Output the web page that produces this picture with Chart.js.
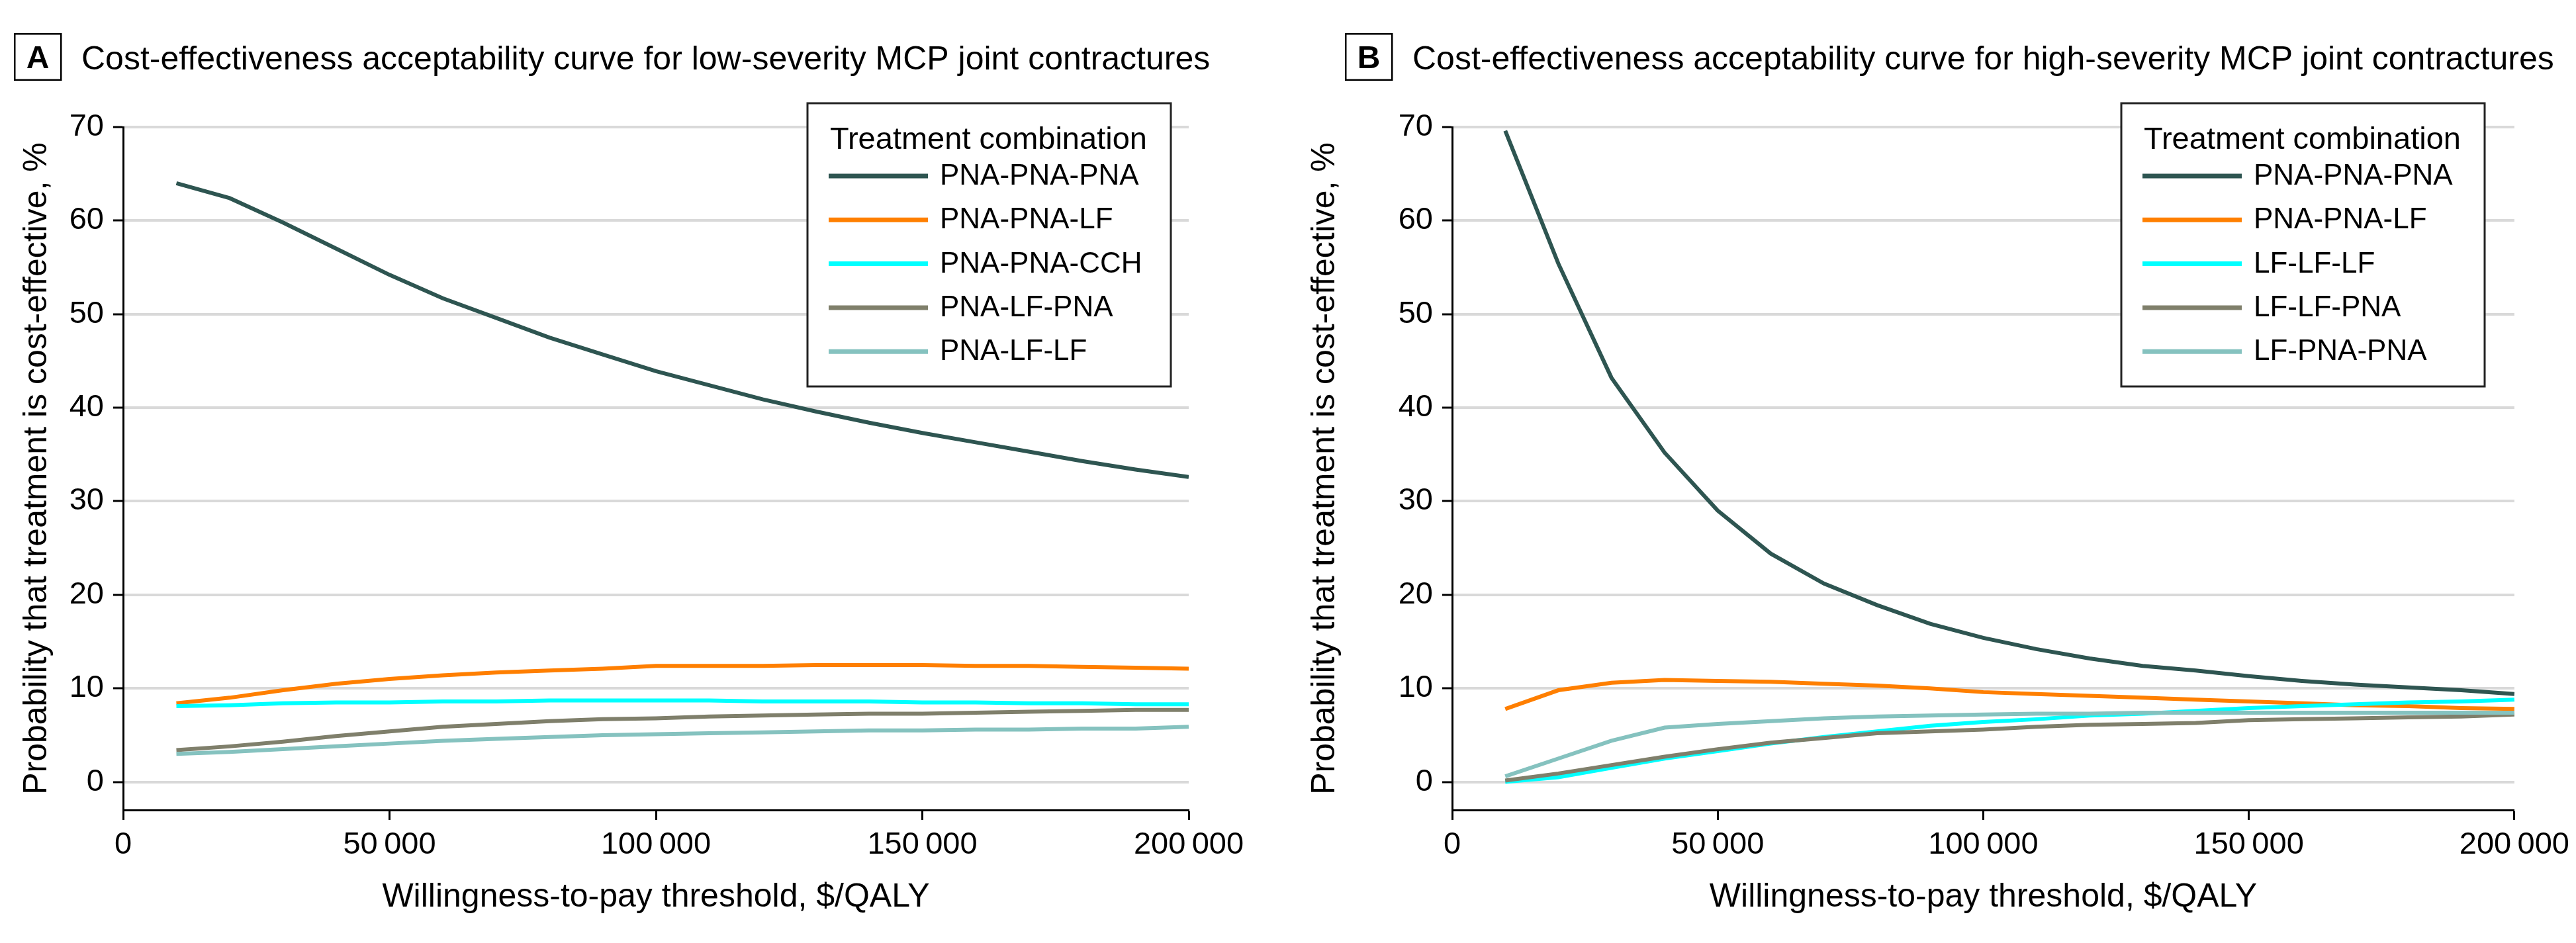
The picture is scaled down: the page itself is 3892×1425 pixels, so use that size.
<!DOCTYPE html>
<html>
<head>
<meta charset="utf-8">
<script src="https://cdn.jsdelivr.net/npm/chart.js@4.4.1/dist/chart.umd.min.js"></script>
<style>
html,body{margin:0;padding:0;background:#fff;width:3892px;height:1425px;overflow:hidden;}
.wrap{position:absolute;top:0;width:1946px;height:1425px;}
canvas{display:block;}
</style>
</head>
<body>
<div class="wrap" style="left:0"><canvas id="cA" width="1946" height="1425"></canvas></div>
<div class="wrap" style="left:1946px"><canvas id="cB" width="1946" height="1425"></canvas></div>
<script>
// ---------- data ----------
const wtp = [10000,20000,30000,40000,50000,60000,70000,80000,90000,100000,110000,120000,130000,140000,150000,160000,170000,180000,190000,200000];
const xTickValues = [0,50000,100000,150000,200000];
const xTickLabels = ['0','50\u2009000','100\u2009000','150\u2009000','200\u2009000'];
const yTickValues = [0,10,20,30,40,50,60,70];

const lowNames = ['PNA-PNA-PNA','PNA-PNA-LF','PNA-PNA-CCH','PNA-LF-PNA','PNA-LF-LF'];
const lowPnaPnaPna = [64.0,62.4,59.8,57.0,54.2,51.7,49.6,47.5,45.7,43.9,42.4,40.9,39.6,38.4,37.3,36.3,35.3,34.3,33.4,32.6];
const lowPnaPnaLf  = [8.4,9.0,9.8,10.5,11.0,11.4,11.7,11.9,12.1,12.4,12.4,12.4,12.5,12.5,12.5,12.4,12.4,12.3,12.2,12.1];
const lowPnaPnaCch = [8.1,8.2,8.4,8.5,8.5,8.6,8.6,8.7,8.7,8.7,8.7,8.6,8.6,8.6,8.5,8.5,8.4,8.4,8.3,8.3];
const lowPnaLfPna  = [3.4,3.8,4.3,4.9,5.4,5.9,6.2,6.5,6.7,6.8,7.0,7.1,7.2,7.3,7.3,7.4,7.5,7.6,7.7,7.7];
const lowPnaLfLf   = [3.0,3.2,3.5,3.8,4.1,4.4,4.6,4.8,5.0,5.1,5.2,5.3,5.4,5.5,5.5,5.6,5.6,5.7,5.7,5.9];

const highNames = ['PNA-PNA-PNA','PNA-PNA-LF','LF-LF-LF','LF-LF-PNA','LF-PNA-PNA'];
const highPnaPnaPna = [69.6,55.4,43.2,35.2,29.0,24.4,21.2,18.9,16.9,15.4,14.2,13.2,12.4,11.9,11.3,10.8,10.4,10.1,9.8,9.4];
const highPnaPnaLf  = [7.8,9.8,10.6,10.9,10.8,10.7,10.5,10.3,10.0,9.6,9.4,9.2,9.0,8.8,8.6,8.4,8.2,8.1,7.9,7.8];
const highLfLfLf    = [0.0,0.5,1.5,2.5,3.3,4.1,4.8,5.4,6.0,6.4,6.7,7.1,7.3,7.6,7.9,8.1,8.3,8.5,8.6,8.8];
const highLfLfPna   = [0.15,0.9,1.8,2.7,3.5,4.2,4.7,5.2,5.4,5.6,5.9,6.1,6.2,6.3,6.6,6.7,6.8,6.9,7.0,7.2];
const highLfPnaPna  = [0.6,2.5,4.4,5.8,6.2,6.5,6.8,7.0,7.1,7.2,7.3,7.3,7.4,7.4,7.4,7.4,7.4,7.4,7.4,7.4];

const titleA = 'Cost-effectiveness acceptability curve for low-severity MCP joint contractures';
const titleB = 'Cost-effectiveness acceptability curve for high-severity MCP joint contractures';
const xTitle = 'Willingness-to-pay threshold, $/QALY';
const yTitle = 'Probability that treatment is cost-effective, %';
const legendTitle = 'Treatment combination';

// ---------- style ----------
const FONT = '"Liberation Sans", Arial, Helvetica, sans-serif';
const colors = ['#2e5551','#ff7f00','#00ffff','#7f7f6b','#85c2bf'];
Chart.defaults.font.family = FONT;
Chart.defaults.color = '#000';

const panelDecor = {
  id: 'panelDecor',
  afterDraw(chart, args, o) {
    const ctx = chart.ctx;
    ctx.save();
    // panel letter box
    ctx.strokeStyle = '#000';
    ctx.lineWidth = 2.5;
    ctx.strokeRect(o.boxX + 1.25, 51.25, 70, 69.5);
    ctx.fillStyle = '#000';
    ctx.font = 'bold 48px ' + FONT;
    ctx.textAlign = 'center';
    ctx.textBaseline = 'alphabetic';
    ctx.fillText(o.letter, o.boxX + 36, 103);
    ctx.textAlign = 'left';
    ctx.font = '50px ' + FONT;
    ctx.fillText(o.title, o.boxX + 102, 105);
    // legend
    const L = o.legend;
    ctx.fillStyle = '#fff';
    ctx.fillRect(L.x, L.y, L.w, L.h);
    ctx.lineWidth = 3;
    ctx.strokeStyle = '#222';
    ctx.strokeRect(L.x, L.y, L.w, L.h);
    ctx.fillStyle = '#000';
    ctx.font = '47px ' + FONT;
    ctx.fillText(legendTitle, L.x + 34, L.y + 69);
    chart.data.datasets.forEach((ds, i) => {
      const y = L.y + 110 + i * 66.3;
      ctx.strokeStyle = ds.borderColor;
      ctx.lineWidth = 7;
      ctx.beginPath();
      ctx.moveTo(L.x + 32, y);
      ctx.lineTo(L.x + 182, y);
      ctx.stroke();
      ctx.fillStyle = '#000';
      ctx.font = '44px ' + FONT;
      ctx.textBaseline = 'middle';
      ctx.fillText(ds.label, L.x + 200, y + 1);
      ctx.textBaseline = 'alphabetic';
    });
    ctx.restore();
  }
};

function makeChart(id, names, series, yWidth, padRight, decor) {
  return new Chart(document.getElementById(id), {
    type: 'line',
    data: {
      datasets: series.map((s, i) => ({
        label: names[i],
        data: s.map((v, j) => ({x: wtp[j], y: v})),
        borderColor: colors[i],
        backgroundColor: colors[i],
        borderWidth: 6,
        pointRadius: 0,
        tension: 0,
        fill: false,
        order: series.length - i
      }))
    },
    options: {
      responsive: false,
      animation: false,
      devicePixelRatio: 1,
      layout: {padding: {left: 0, top: 192, right: padRight, bottom: 0}},
      plugins: {legend: {display: false}, tooltip: {enabled: false}, panelDecor: decor},
      scales: {
        x: {
          type: 'linear', min: 0, max: 200000,
          afterFit(s) { s.height = 201; },
          afterBuildTicks(s) { s.ticks = xTickValues.map(v => ({value: v})); },
          ticks: {
            callback: (v) => xTickLabels[xTickValues.indexOf(v)],
            font: {size: 47}, color: '#000', padding: 10, maxRotation: 0, autoSkip: false
          },
          grid: {display: true, drawOnChartArea: false, drawTicks: true, tickLength: 15, tickColor: '#000', tickWidth: 3},
          border: {display: true, color: '#000', width: 3},
          title: {display: true, text: xTitle, font: {size: 50}, color: '#000', padding: {top: 0, bottom: 39}}
        },
        y: {
          type: 'linear', min: -3, max: 70,
          afterFit(s) { s.width = yWidth; },
          afterBuildTicks(s) { s.ticks = yTickValues.map(v => ({value: v})); },
          ticks: {font: {size: 47}, color: '#000', padding: 14, autoSkip: false},
          grid: {display: true, drawOnChartArea: true, drawTicks: true, tickLength: 15, tickColor: '#000', tickWidth: 3, color: '#d9d9d9', lineWidth: 4},
          border: {display: true, color: '#000', width: 3},
          title: {display: true, text: yTitle, font: {size: 50}, color: '#000', padding: {top: 26, bottom: 0}}
        }
      }
    },
    plugins: [panelDecor]
  });
}

makeChart('cA', lowNames, [lowPnaPnaPna, lowPnaPnaLf, lowPnaPnaCch, lowPnaLfPna, lowPnaLfLf], 186, 150,
  {letter: 'A', title: titleA, boxX: 21, legend: {x: 1220, y: 156, w: 549, h: 428}});
makeChart('cB', highNames, [highPnaPnaPna, highPnaPnaLf, highLfLfLf, highLfLfPna, highLfPnaPna], 248, 88,
  {letter: 'B', title: titleB, boxX: 86, legend: {x: 1259, y: 156, w: 549, h: 428}});
</script>
</body>
</html>
